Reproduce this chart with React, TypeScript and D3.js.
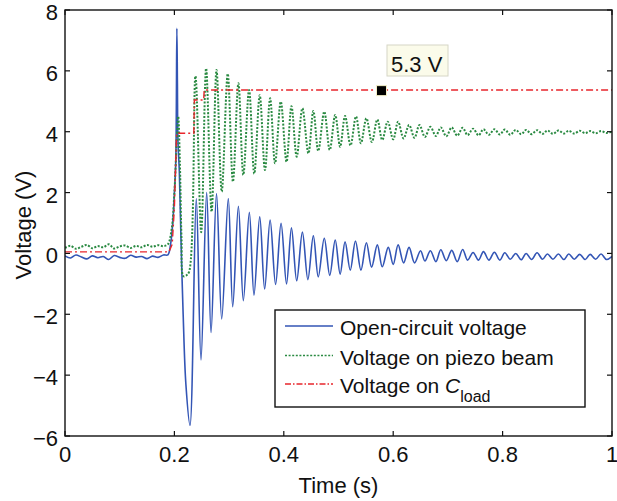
import * as d3 from "d3";

// axis ticks
const xTicks = [0, 0.2, 0.4, 0.6, 0.8, 1];
const yTicks = [-6, -4, -2, 0, 2, 4, 6, 8];

// open-circuit voltage: baseline, trigger spike, then peaks/troughs of the ring-down (t, V)
const openCircuit: [number, number][] = [
  [0, -0.08], [0.01, -0.15], [0.02, -0.05], [0.03, -0.12], [0.04, -0.18], [0.05, -0.08],
  [0.06, -0.14], [0.07, -0.1], [0.08, -0.2], [0.09, -0.07], [0.1, -0.13], [0.11, -0.16],
  [0.12, -0.06], [0.13, -0.12], [0.14, -0.1], [0.15, -0.17], [0.16, -0.09], [0.17, -0.13],
  [0.18, -0.05], [0.188, -0.05], [0.193, 0.3], [0.197, 1.0], [0.2, 2.0], [0.2025, 3.0],
  [0.2045, 7.4], [0.2055, 5.6], [0.2065, 3.7], [0.209, 2.7], [0.212, 0.5], [0.216, -2.0],
  [0.221, -4.3], [0.2285, -5.65],
  [0.24, 1.8], [0.2486, -3.5], [0.259, 2.0], [0.267, -2.6], [0.277, 1.97], [0.2865, -2.15],
  [0.2985, 1.8], [0.3066, -1.75], [0.317, 1.55], [0.326, -1.55], [0.337, 1.35], [0.3455, -1.37],
  [0.356, 1.2], [0.365, -1.17], [0.375, 1.1], [0.385, -1.02], [0.395, 0.99], [0.405, -1.0],
  [0.414, 0.84], [0.4236, -0.9], [0.434, 0.7], [0.444, -0.86], [0.454, 0.58], [0.463, -0.77],
  [0.474, 0.5], [0.484, -0.72], [0.494, 0.44], [0.503, -0.68], [0.512, 0.38], [0.5215, -0.55],
  [0.531, 0.41], [0.541, -0.55], [0.551, 0.35], [0.5605, -0.45], [0.571, 0.28], [0.58, -0.44],
  [0.591, 0.2], [0.6, -0.36], [0.609, 0.28], [0.619, -0.31], [0.629, 0.2], [0.639, -0.31],
  [0.65, 0.09], [0.658, -0.25], [0.668, 0.09], [0.678, -0.27], [0.687, 0.12], [0.697, -0.24],
  [0.707, 0.1], [0.717, -0.27], [0.727, 0.13], [0.736, -0.22], [0.746, 0.03], [0.756, -0.22],
  [0.765, 0.06], [0.775, -0.22], [0.785, 0.04], [0.795, -0.22], [0.804, 0.02], [0.814, -0.19],
  [0.824, 0.0], [0.834, -0.21], [0.843, 0.0], [0.853, -0.2], [0.863, 0.02], [0.873, -0.19],
  [0.882, -0.02], [0.892, -0.19], [0.902, -0.02], [0.912, -0.2], [0.921, -0.02], [0.931, -0.19],
  [0.941, -0.03], [0.951, -0.2], [0.96, -0.03], [0.97, -0.19], [0.98, -0.02], [0.99, -0.2],
  [1.0, -0.1],
];

// voltage on piezo beam
const piezoBeam: [number, number][] = [
  [0, 0.18], [0.01, 0.25], [0.02, 0.15], [0.03, 0.22], [0.04, 0.28], [0.05, 0.17],
  [0.06, 0.24], [0.07, 0.2], [0.08, 0.3], [0.09, 0.16], [0.1, 0.23], [0.11, 0.26],
  [0.12, 0.18], [0.13, 0.25], [0.14, 0.2], [0.15, 0.28], [0.16, 0.22], [0.17, 0.27],
  [0.18, 0.24], [0.188, 0.3], [0.195, 0.8], [0.2, 2.0], [0.204, 3.6], [0.207, 4.5],
  [0.21, 3.0], [0.213, 0.5], [0.2165, -0.75], [0.222, -0.72], [0.227, -0.6],
  [0.2385, 5.83], [0.249, 0.7], [0.258, 6.08], [0.268, 1.37], [0.277, 6.03], [0.2865, 2.03],
  [0.2975, 5.9], [0.307, 2.36], [0.317, 5.59], [0.326, 2.58], [0.3365, 5.37], [0.346, 2.62],
  [0.356, 5.2], [0.3656, 2.74], [0.375, 5.1], [0.384, 2.96], [0.3945, 4.99], [0.405, 3.01],
  [0.414, 4.84], [0.4236, 3.18], [0.434, 4.77], [0.445, 3.29], [0.454, 4.68], [0.463, 3.37],
  [0.474, 4.66], [0.484, 3.4], [0.494, 4.55], [0.503, 3.5], [0.512, 4.52], [0.522, 3.55],
  [0.532, 4.5], [0.541, 3.62], [0.551, 4.44], [0.561, 3.66], [0.571, 4.4], [0.58, 3.73],
  [0.59, 4.33], [0.6, 3.75], [0.609, 4.33], [0.619, 3.78], [0.629, 4.22], [0.639, 3.8],
  [0.648, 4.22], [0.658, 3.83], [0.668, 4.16], [0.678, 3.86], [0.687, 4.14], [0.697, 3.85],
  [0.707, 4.14], [0.717, 3.87], [0.727, 4.13], [0.736, 3.89], [0.746, 4.1], [0.756, 3.88],
  [0.765, 4.08], [0.775, 3.9], [0.785, 4.08], [0.795, 3.91], [0.804, 4.07], [0.814, 3.9],
  [0.824, 4.06], [0.834, 3.92], [0.843, 4.06], [0.853, 3.92], [0.863, 4.05], [0.873, 3.93],
  [0.882, 4.04], [0.892, 3.93], [0.902, 4.04], [0.912, 3.94], [0.921, 4.03], [0.931, 3.94],
  [0.941, 4.03], [0.951, 3.95], [0.96, 4.02], [0.97, 3.95], [0.98, 4.02], [0.99, 3.96],
  [1.0, 4.0],
];

// voltage on C_load (stepped charge-up)
const loadCap: [number, number][] = [
  [0, 0.05], [0.19, 0.05], [0.196, 0.3], [0.2, 1.5], [0.204, 3.95], [0.2355, 3.95],
  [0.2365, 5.04], [0.2535, 5.04], [0.2545, 5.37], [1.0, 5.37],
];

const marker: [number, number] = [0.5786, 5.35];
const markerText = "5.3 V";

const blue = "#3355b5";
const green = "#2a8a42";
const red = "#e8262c";
const font = "'Liberation Sans', Arial, Helvetica, sans-serif";

const W = 617;
const H = 501;
const m = { left: 65, right: 612, top: 10, bottom: 436 };

export default function App() {
  const x = d3.scaleLinear().domain([0, 1]).range([m.left, m.right]);
  const y = d3.scaleLinear().domain([-6, 8]).range([m.bottom, m.top]);

  const smooth = d3
    .line<[number, number]>()
    .x((d) => x(d[0]))
    .y((d) => y(d[1]))
    .curve(d3.curveCatmullRom.alpha(0.5));
  const straight = d3
    .line<[number, number]>()
    .x((d) => x(d[0]))
    .y((d) => y(d[1]));

  const tick = 5;
  const fmtY = (v: number) => (v < 0 ? "\u2212" + Math.abs(v) : String(v));

  const legendX = 275;
  const legendY = 310;
  const rows = [
    { y: 335, dash: "none", color: blue, w: 1.3 },
    { y: 364.5, dash: "2 1.6", color: green, w: 1.6 },
    { y: 393, dash: "6 2 1.5 2", color: red, w: 1.3 },
  ];

  return (
    <svg
      width={W}
      height={H}
      style={{ position: "absolute", left: 0, top: 0, background: "#fff" }}
      fontFamily={font}
    >
      <defs>
        <clipPath id="plot">
          <rect x={m.left} y={m.top} width={m.right - m.left} height={m.bottom - m.top} />
        </clipPath>
      </defs>

      <g clipPath="url(#plot)" fill="none">
        <path d={smooth(openCircuit) ?? ""} stroke={blue} strokeWidth={1.6} />
        <path d={smooth(piezoBeam) ?? ""} stroke={green} strokeWidth={2} strokeDasharray="2 1.6" />
        <path d={straight(loadCap) ?? ""} stroke={red} strokeWidth={1.4} strokeDasharray="7 3 2 3" />
      </g>

      {/* axes box with inward ticks */}
      <rect
        x={m.left}
        y={m.top}
        width={m.right - m.left}
        height={m.bottom - m.top}
        fill="none"
        stroke="#111"
        strokeWidth={1.4}
      />
      {xTicks.map((t) => (
        <g key={"x" + t}>
          <line x1={x(t)} x2={x(t)} y1={m.bottom} y2={m.bottom - tick} stroke="#111" strokeWidth={1.2} />
          <line x1={x(t)} x2={x(t)} y1={m.top} y2={m.top + tick} stroke="#111" strokeWidth={1.2} />
          <text x={x(t)} y={462} fontSize={22} textAnchor="middle" fill="#111">
            {String(t)}
          </text>
        </g>
      ))}
      {yTicks.map((t) => (
        <g key={"y" + t}>
          <line x1={m.left} x2={m.left + tick} y1={y(t)} y2={y(t)} stroke="#111" strokeWidth={1.2} />
          <line x1={m.right} x2={m.right - tick} y1={y(t)} y2={y(t)} stroke="#111" strokeWidth={1.2} />
          <text x={58} y={y(t) + 10} fontSize={22} textAnchor="end" fill="#111">
            {fmtY(t)}
          </text>
        </g>
      ))}

      <text x={(m.left + m.right) / 2} y={493} fontSize={22} textAnchor="middle" fill="#111">
        Time (s)
      </text>
      <text
        transform={`translate(31,${(m.top + m.bottom) / 2 + 2}) rotate(-90)`}
        fontSize={22}
        textAnchor="middle"
        fill="#111"
      >
        Voltage (V)
      </text>

      {/* data tip */}
      <rect x={387} y={45} width={61} height={31} fill="#fbfbea" stroke="#d6d6c6" strokeWidth={1} />
      <text x={391} y={72} fontSize={22} fill="#111">
        {markerText}
      </text>
      <rect
        x={x(marker[0]) - 5}
        y={y(marker[1]) - 5}
        width={10}
        height={10}
        fill="#000"
        stroke="#f4f0c8"
        strokeWidth={1}
      />

      {/* legend */}
      <rect x={legendX} y={legendY} width={310} height={97} fill="#fff" stroke="#111" strokeWidth={1.4} />
      {rows.map((r, i) => (
        <line
          key={"l" + i}
          x1={285}
          x2={333}
          y1={r.y - 9}
          y2={r.y - 9}
          stroke={r.color}
          strokeWidth={r.w}
          strokeDasharray={r.dash}
        />
      ))}
      <text x={340} y={rows[0].y} fontSize={21} fill="#111">
        Open-circuit voltage
      </text>
      <text x={340} y={rows[1].y} fontSize={21} fill="#111">
        Voltage on piezo beam
      </text>
      <text x={340} y={rows[2].y} fontSize={21} fill="#111">
        Voltage on <tspan fontStyle="italic">C</tspan>
        <tspan fontSize={16} dy={9}>load</tspan>
      </text>
    </svg>
  );
}
